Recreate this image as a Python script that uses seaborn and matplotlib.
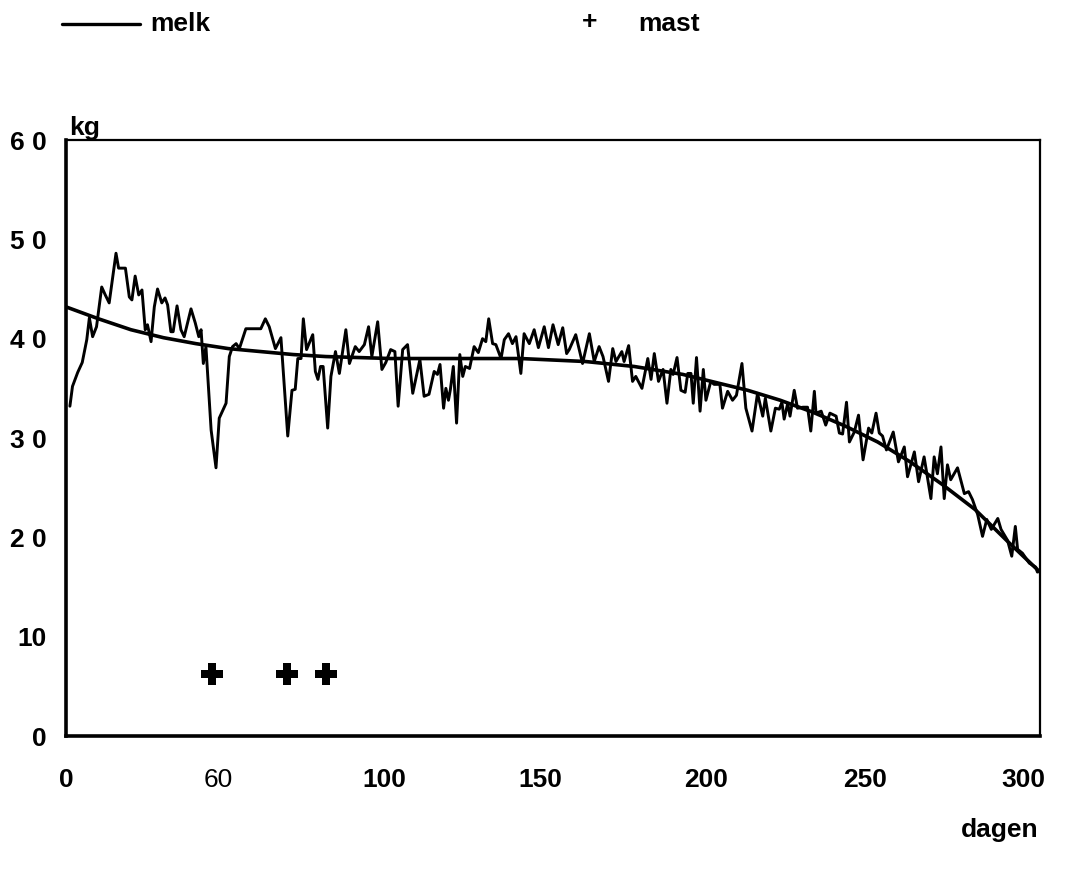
import numpy as np
import pandas as pd
import matplotlib
matplotlib.use("Agg")
import matplotlib.pyplot as plt
import seaborn as sns
from matplotlib.lines import Line2D

# daily milk yield (kg)
days = [1.2, 2.0, 3.6, 5.0, 6.4, 7.2, 8.2, 9.4, 11.0, 12.1, 13.3, 15.4, 16.2, 18.3, 19.5,
        20.3, 21.3, 22.4, 23.4, 24.4, 25.1, 26.2, 27.2, 28.2, 29.5, 30.5, 31.3, 32.3, 33.0,
        34.2, 35.4, 36.4, 38.5, 39.8, 40.9, 41.6, 42.3, 43.1, 44.7, 46.2, 47.2, 49.3, 50.3,
        51.3, 52.4, 53.4, 55.4, 60.0, 61.4, 62.6, 64.5, 66.2, 68.3, 69.6, 70.6, 71.4, 72.4,
        73.1, 74.1, 76.0, 76.8,
        77.6, 78.4, 79.2, 80.6, 81.6, 83.0, 84.2, 86.2, 87.3, 89.1, 90.3, 91.9, 93.2, 94.2,
        96.0, 97.3, 98.5, 100.0, 101.3, 102.3, 103.7, 105.2, 106.8, 109.0, 110.3, 111.8,
        113.4, 114.4, 115.2, 116.3, 117.0, 117.8, 118.4, 119.3, 120.3, 121.3, 122.2, 123.0,
        124.3, 125.7, 127.0, 128.3, 129.3, 130.2, 131.4, 132.4, 134.0, 135.0, 136.3, 137.5,
        138.6, 140.1, 141.1, 142.7, 144.2, 145.5, 147.3, 148.6, 150.0, 151.6, 153.0,
        154.2, 155.0, 157.0, 159.1, 161.2, 162.7, 164.2, 165.4, 167.1, 168.4, 169.4, 171.2,
        171.9, 173.3, 174.5, 175.5, 177.4, 179.2, 180.2, 181.2, 182.5, 183.9, 185.1, 186.3,
        187.0, 188.2, 189.4, 190.7, 191.5, 192.5, 193.2, 194.2, 195.3, 196.3, 197.1, 198.6,
        199.6, 201.4, 202.2, 203.8, 205.3, 206.5, 208.2, 209.4, 211.3, 213.0, 214.6, 215.4,
        217.1, 218.5, 219.7, 220.5, 221.2, 222.3, 223.0, 224.3, 225.3, 227.0, 228.4, 229.4,
        230.5,
        231.0, 232.6, 234.0, 235.3, 237.2, 238.2, 239.2, 240.4, 241.3, 242.8, 244.1, 245.5,
        247.2, 248.2, 249.5, 250.5, 251.5, 252.7, 254.8, 256.4, 258.2, 259.2, 261.3, 262.6,
        264.3, 266.4, 267.4, 268.4, 269.5, 270.5, 271.5, 272.5, 274.6, 276.7, 278.0, 279.2,
        280.8, 282.3, 283.6, 285.0, 287.0, 288.0, 290.0, 291.3, 292.4, 293.1, 294.6, 296.7,
        298.7, 299.2]
melk = [33.2, 35.2, 36.6, 37.6, 39.9, 42.1, 40.2, 41.2, 45.2, 44.4, 43.6, 48.6, 47.1, 47.1, 44.2,
        43.9, 46.3, 44.4, 44.9, 40.9, 41.4, 39.7, 43.2, 45.0, 43.6, 44.1, 43.4, 40.7, 40.7,
        43.3, 40.9, 40.2, 43.0, 41.6, 40.2, 40.9, 37.5, 39.2, 30.8, 27.0, 32.0, 33.5, 38.2,
        39.2, 39.5, 39.0, 41.0, 41.0, 42.0, 41.2, 39.0, 40.1, 30.2, 34.8, 34.9, 38.0, 38.0,
        42.0, 38.9, 40.4, 36.7,
        35.9, 37.2, 37.2, 31.0, 36.2, 38.7, 36.5, 40.9, 37.5, 39.2, 38.7, 39.4, 41.2, 38.2,
        41.7, 36.9, 37.6, 38.9, 38.7, 33.2, 38.9, 39.4, 34.5, 37.9, 34.2, 34.4,
        36.7, 36.4, 37.4, 33.0, 35.0, 33.8, 34.9, 37.2, 31.5, 38.4, 36.2, 37.2,
        37.0, 39.2, 38.6, 40.0, 39.7, 42.0, 39.5, 39.4, 38.0, 39.9, 40.5, 39.5,
        40.2, 36.5, 40.5, 39.5, 40.9, 39.1, 41.2, 39.1, 41.4, 39.4, 41.1,
        38.5, 38.9, 40.4, 37.5, 40.5, 37.7, 39.2, 38.2, 35.7, 39.0, 37.7, 38.7,
        37.7, 39.3, 35.7, 36.2, 35.0, 38.0, 35.9, 38.5, 35.7, 36.9, 33.5, 36.9,
        36.4, 38.1, 34.8, 34.6, 36.5, 36.5, 33.5, 38.1, 32.7, 36.9, 33.8, 35.7,
        35.4, 35.4, 33.0, 34.7, 33.8, 34.3, 37.5, 33.0, 30.7, 34.5, 32.2, 34.0,
        30.7, 33.0, 32.9, 33.6, 31.9, 33.5, 32.2, 34.8, 33.0, 33.1, 33.1, 30.7,
        34.7,
        32.5, 32.7, 31.3, 32.5, 32.2, 30.5, 30.4, 33.6, 29.6, 30.6, 32.3, 27.8,
        31.0, 30.5, 32.5, 30.5, 30.2, 28.8, 30.6, 27.6, 29.1, 26.1, 28.6, 25.6,
        28.1, 23.9, 28.1, 26.4, 29.1, 23.9, 27.3, 25.8, 27.0, 24.4, 24.6, 23.8,
        22.3, 20.1, 21.8, 20.8, 21.9, 20.8, 19.7, 18.1, 21.1, 18.8, 18.4, 17.4,
        17.0, 16.5]

# fitted lactation curve
curve_days = [0, 10, 20, 30, 40, 50, 60, 70, 80, 100, 120, 140, 160, 175, 190, 200,
              210, 220, 230, 240, 250, 260, 270, 280, 290, 300]
curve_kg = [43.2, 42.0, 40.9, 40.1, 39.5, 39.0, 38.7, 38.4, 38.2, 38.0, 38.0, 38.0, 37.7,
            37.2, 36.4, 35.6, 34.8, 33.8, 32.6, 31.2, 29.6, 27.6, 25.3, 22.8, 19.6, 16.5]

# mastitis cases
mast_days = [45, 68, 80]
mast_kg = [6.2, 6.2, 6.2]

xtick_pos = [0, 47, 98, 146, 197, 246, 295]
xtick_lab = ["0", "60", "100", "150", "200", "250", "300"]
ytick_pos = [0, 10, 20, 30, 40, 50, 60]
ytick_lab = ["0", "10", "2 0", "3 0", "4 0", "5 0", "6 0"]

sns.set_style("white")
plt.rcParams['font.family'] = ['Liberation Sans Narrow', 'Liberation Sans', 'DejaVu Sans']
plt.rcParams['text.color'] = 'black'
plt.rcParams['xtick.color'] = 'black'
plt.rcParams['ytick.color'] = 'black'

fig = plt.figure(figsize=(10.86, 8.71), dpi=100)
ax = fig.add_axes([66/1086, 1 - 736/871, 974/1086, 596/871])

df = pd.DataFrame({"dag": days, "melk": melk})
sns.lineplot(data=df, x="dag", y="melk", color="black", lw=2.1, estimator=None, ax=ax)
sns.lineplot(x=curve_days, y=curve_kg, color="black", lw=2.6, estimator=None, ax=ax)
sns.scatterplot(x=mast_days, y=mast_kg, marker="P", s=230, color="black",
                edgecolor="black", linewidth=0, ax=ax)

ax.set_xlim(0, 300)
ax.set_ylim(0, 60)
ax.set_xlabel("")
ax.set_ylabel("")

ax.set_xticks(xtick_pos)
ax.set_xticklabels(xtick_lab, fontsize=19, fontweight="bold")
ax.xaxis.get_ticklabels()[1].set_fontweight("normal")
ax.set_yticks(ytick_pos)
ax.set_yticklabels(ytick_lab, fontsize=19, fontweight="bold")
ax.tick_params(axis="x", length=0, pad=23)
ax.tick_params(axis="y", length=0, pad=14)

for side, w in [("left", 2.6), ("bottom", 2.6), ("top", 1.6), ("right", 1.6)]:
    ax.spines[side].set_visible(True)
    ax.spines[side].set_linewidth(w)
    ax.spines[side].set_color("black")

ax.text(0.003, 1.0, "kg", transform=ax.transAxes, fontsize=19, fontweight="bold",
        ha="left", va="bottom")
fig.text(1000/1086, 1 - 830/871, "dagen", fontsize=19, fontweight="bold",
         ha="center", va="center")

# legend drawn at the top
fig.add_artist(Line2D([62/1086, 140/1086], [1 - 24/871, 1 - 24/871], color="black",
                      lw=2.4, transform=fig.transFigure))
fig.text(150/1086, 1 - 24/871, "melk", fontsize=19, fontweight="bold", va="center")
fig.text(590/1086, 1 - 22/871, "+", fontsize=19, fontweight="bold", va="center", ha="center")
fig.text(638/1086, 1 - 24/871, "mast", fontsize=19, fontweight="bold", va="center")

fig.savefig("out.png", dpi=100)
